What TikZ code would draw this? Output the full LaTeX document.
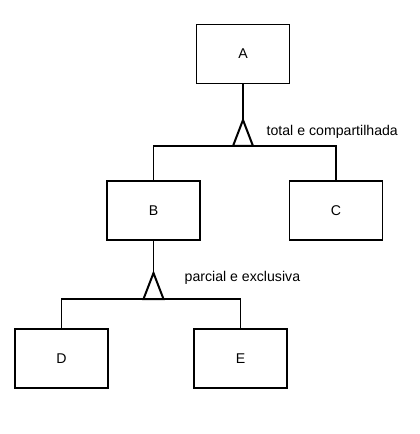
\documentclass[tikz,border=0pt]{standalone}
\usepackage{fontspec}
\setmainfont{Liberation Sans}
\usetikzlibrary{positioning,shadows}

\tikzset{
  entity/.style={draw, fill=white, line width=1pt, minimum width=69.75pt, minimum height=44.25pt,
    inner sep=0pt, font=\fontsize{10.6}{12}\selectfont,
    drop shadow={shadow xshift=0.6pt, shadow yshift=-0.6pt, fill=black!45, opacity=1}},
  spec/.style={draw, fill=white, line width=1.5pt, line join=miter},
  speclabel/.style={anchor=west, inner sep=0pt, font=\fontsize{10.6}{12}\selectfont}
}

\begin{document}
\begin{tikzpicture}[x=0.75pt, y=-0.75pt, line width=1pt]
  \useasboundingbox (0,0) rectangle (419,434);

  % Entities
  \node[entity] (A) at (243,54) {A};
  \node[entity] (B) at (153.5,210.5) {B};
  \node[entity] (C) at (336,210.5) {C};
  \node[entity] (D) at (61.5,358.5) {D};
  \node[entity] (E) at (240.5,358.5) {E};

  % Specialization of A
  \coordinate (tA) at (243,120);
  \coordinate (bA) at (243,146);
  \draw (A) -- (tA);
  \draw (B.north) |- (bA) -| (C.north);
  \draw[spec] (tA) -- ++(-10,26) -- ++(20,0) -- cycle;
  \node[speclabel] (lA) at (266,132) {total e compartilhada};

  % Specialization of B
  \coordinate (tB) at (153.5,273);
  \coordinate (bB) at (153.5,299);
  \draw (B) -- (tB);
  \draw (D.north) |- (bB) -| (E.north);
  \draw[spec] (tB) -- ++(-10,26) -- ++(20,0) -- cycle;
  \node[speclabel] (lB) at (184,278) {parcial e exclusiva};
\end{tikzpicture}
\end{document}
